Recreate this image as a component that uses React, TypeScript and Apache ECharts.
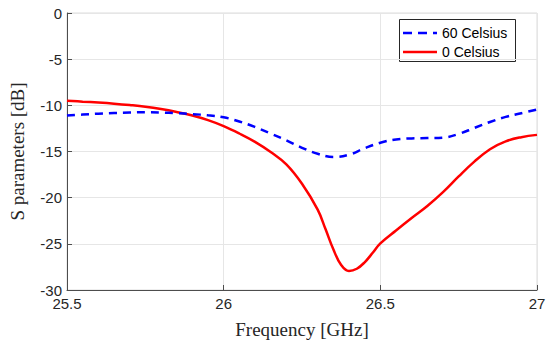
import React, { useEffect, useRef } from "react";
import * as echarts from "echarts";

const freqRed = [25.5, 25.55, 25.6, 25.65, 25.7, 25.75, 25.8, 25.85, 25.9, 25.95, 26.0, 26.05, 26.1, 26.15, 26.2, 26.25, 26.3, 26.325, 26.35, 26.375, 26.4, 26.425, 26.45, 26.475, 26.5, 26.55, 26.6, 26.65, 26.7, 26.75, 26.8, 26.85, 26.9, 26.95, 27.0];
const sRed = [-9.5, -9.6, -9.7, -9.82, -9.97, -10.15, -10.4, -10.72, -11.1, -11.6, -12.25, -13.05, -13.95, -15.05, -16.4, -18.5, -21.3, -23.4, -25.6, -27.3, -27.95, -27.7, -27.0, -26.0, -24.95, -23.55, -22.2, -20.9, -19.4, -17.7, -16.1, -14.75, -13.9, -13.45, -13.2];

const freqBlue = [25.5, 25.55, 25.6, 25.65, 25.7, 25.75, 25.8, 25.85, 25.9, 25.95, 26.0, 26.05, 26.1, 26.15, 26.2, 26.25, 26.3, 26.35, 26.4, 26.45, 26.5, 26.55, 26.6, 26.65, 26.7, 26.75, 26.8, 26.85, 26.9, 26.95, 27.0];
const sBlue = [-11.1, -11.0, -10.9, -10.83, -10.78, -10.75, -10.78, -10.85, -10.95, -11.08, -11.3, -11.75, -12.35, -13.05, -13.8, -14.6, -15.25, -15.6, -15.35, -14.65, -14.05, -13.7, -13.58, -13.55, -13.5, -13.1, -12.45, -11.8, -11.25, -10.85, -10.45];

const seriesNames = ["60 Celsius", "0 Celsius"];
const seriesColors = ["#0000ff", "#ff0000"];

export default function App() {
  const ref = useRef<HTMLDivElement>(null);
  useEffect(() => {
    if (!ref.current) return;
    const chart = echarts.init(ref.current, null, { renderer: "svg" });
    const tickFont = { fontFamily: "Liberation Sans", fontSize: 15, color: "#262626" };
    chart.setOption({
      animation: false,
      backgroundColor: "#ffffff",
      grid: { left: 57, right: 13, top: 13, bottom: 55, show: true, borderColor: "#dcdcdc", borderWidth: 1 },
      xAxis: {
        type: "value",
        min: 25.5,
        max: 27,
        interval: 0.5,
        name: "Frequency [GHz]",
        nameLocation: "middle",
        nameGap: 30,
        nameTextStyle: { fontFamily: "Liberation Serif", fontSize: 19, color: "#262626" },
        axisLine: { show: true, onZero: false, lineStyle: { color: "#4d4d4d", width: 1 } },
        axisTick: { show: true, inside: true, length: 5, lineStyle: { color: "#4d4d4d" } },
        axisLabel: { ...tickFont, margin: 6 },
        splitLine: { show: true, lineStyle: { color: "#e6e6e6", width: 1 } },
      },
      yAxis: {
        type: "value",
        min: -30,
        max: 0,
        interval: 5,
        name: "S parameters [dB]",
        nameLocation: "middle",
        nameGap: 40,
        nameTextStyle: { fontFamily: "Liberation Serif", fontSize: 19, color: "#262626" },
        axisLine: { show: true, onZero: false, lineStyle: { color: "#4d4d4d", width: 1 } },
        axisTick: { show: true, inside: true, length: 5, lineStyle: { color: "#4d4d4d" } },
        axisLabel: { ...tickFont, margin: 5 },
        splitLine: { show: true, lineStyle: { color: "#e6e6e6", width: 1 } },
      },
      graphic: [
        {
          type: "group",
          z: 100,
          children: [
            { type: "rect", shape: { x: 399.5, y: 19.5, width: 116, height: 42 }, style: { fill: "#ffffff", stroke: "#262626", lineWidth: 1 } },
            { type: "line", shape: { x1: 403, y1: 33, x2: 437, y2: 33 }, style: { stroke: seriesColors[0], lineWidth: 2.5, lineDash: [9, 6] } },
            { type: "text", x: 442, y: 33, style: { text: seriesNames[0], fill: "#000", fontFamily: "Liberation Sans", fontSize: 14, verticalAlign: "middle", align: "left" } },
            { type: "line", shape: { x1: 403, y1: 52, x2: 437, y2: 52 }, style: { stroke: seriesColors[1], lineWidth: 2.5 } },
            { type: "text", x: 442, y: 52, style: { text: seriesNames[1], fill: "#000", fontFamily: "Liberation Sans", fontSize: 14, verticalAlign: "middle", align: "left" } },
          ],
        },
      ],
      series: [
        {
          name: seriesNames[0],
          type: "line",
          smooth: 0.4,
          symbol: "none",
          data: freqBlue.map((f, i) => [f, sBlue[i]]),
          lineStyle: { color: seriesColors[0], width: 2.5, type: [8, 6] },
          itemStyle: { color: seriesColors[0] },
          z: 3,
        },
        {
          name: seriesNames[1],
          type: "line",
          smooth: 0.4,
          symbol: "none",
          data: freqRed.map((f, i) => [f, sRed[i]]),
          lineStyle: { color: seriesColors[1], width: 2.5 },
          itemStyle: { color: seriesColors[1] },
          z: 2,
        },
      ],
    });
    return () => chart.dispose();
  }, []);
  return <div ref={ref} style={{ width: 550, height: 345, position: "fixed", left: 0, top: 0 }} />;
}
